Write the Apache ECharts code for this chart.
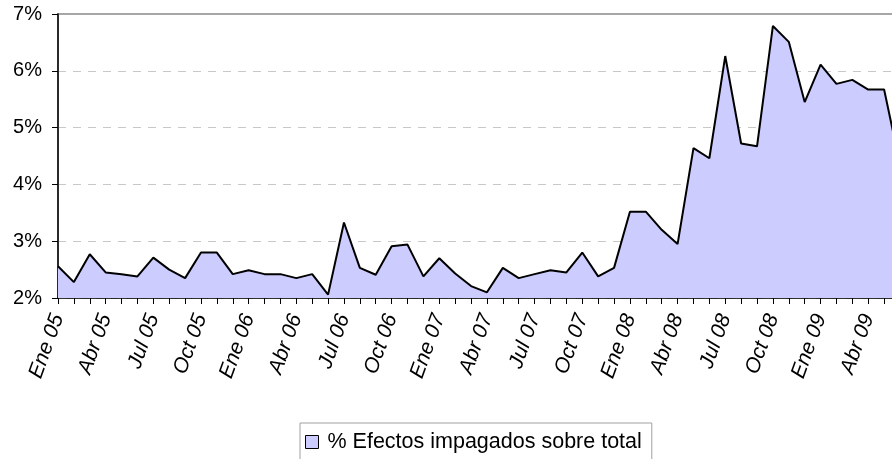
<!DOCTYPE html>
<html>
<head>
<meta charset="utf-8">
<script src="https://cdn.jsdelivr.net/npm/echarts@6/dist/echarts.min.js"></script>
<style>
html,body{margin:0;padding:0;background:#fff;overflow:hidden;width:892px;height:459px;}
#chart{width:900px;height:459px;}
</style>
</head>
<body>
<div id="chart"></div>
<script>
const categories = [
  'Ene 05','Feb 05','Mar 05','Abr 05','May 05','Jun 05','Jul 05','Ago 05','Sep 05','Oct 05','Nov 05','Dic 05',
  'Ene 06','Feb 06','Mar 06','Abr 06','May 06','Jun 06','Jul 06','Ago 06','Sep 06','Oct 06','Nov 06','Dic 06',
  'Ene 07','Feb 07','Mar 07','Abr 07','May 07','Jun 07','Jul 07','Ago 07','Sep 07','Oct 07','Nov 07','Dic 07',
  'Ene 08','Feb 08','Mar 08','Abr 08','May 08','Jun 08','Jul 08','Ago 08','Sep 08','Oct 08','Nov 08','Dic 08',
  'Ene 09','Feb 09','Mar 09','Abr 09','May 09','Jun 09'
];
const seriesName = '% Efectos impagados sobre total';
const impagados = [
  2.56, 2.28, 2.77, 2.45, 2.42, 2.38, 2.71, 2.50, 2.35, 2.80, 2.80, 2.42,
  2.49, 2.42, 2.42, 2.35, 2.42, 2.06, 3.33, 2.53, 2.41, 2.91, 2.94, 2.38,
  2.70, 2.43, 2.21, 2.10, 2.53, 2.35, 2.42, 2.49, 2.45, 2.80, 2.38, 2.53,
  3.52, 3.52, 3.20, 2.95, 4.64, 4.46, 6.26, 4.72, 4.67, 6.79, 6.51, 5.45,
  6.11, 5.77, 5.84, 5.67, 5.67, 4.35
];
const yMin = 2, yMax = 7, yStep = 1;

const FONT = '"Liberation Sans", Arial, sans-serif';
const chart = echarts.init(document.getElementById('chart'), null, {renderer: 'canvas'});
chart.setOption({
  animation: false,
  backgroundColor: '#ffffff',
  grid: {
    left: 58, top: 14, height: 284, width: 842,
    show: true, borderColor: '#a6a6a6', borderWidth: 2, backgroundColor: 'transparent'
  },
  legend: {
    left: 300, top: 423,
    orient: 'horizontal',
    padding: [8, 10, 8, 5],
    borderColor: '#a0a0a0', borderWidth: 1,
    itemWidth: 13, itemHeight: 13, itemGap: 10,
    icon: 'rect',
    textStyle: {fontFamily: FONT, fontSize: 21.5, color: '#000', width: 330, padding: [0,0,0,4]},
    data: [{name: seriesName, itemStyle: {color: '#ccccff', borderColor: '#000', borderWidth: 1}}]
  },
  xAxis: {
    type: 'category',
    data: categories,
    boundaryGap: false,
    axisLine: {lineStyle: {color: '#000', width: 1.5}},
    axisTick: {show: true, interval: 0, length: 6, lineStyle: {color: '#000'}},
    axisLabel: {
      interval: 2, rotate: 70, margin: 17,
      fontFamily: FONT, fontSize: 21, fontStyle: 'italic', color: '#000'
    },
    splitLine: {show: false}
  },
  yAxis: {
    type: 'value',
    min: yMin, max: yMax, interval: yStep,
    axisLine: {show: true, lineStyle: {color: '#000', width: 1.5}},
    axisTick: {show: true, length: 6, lineStyle: {color: '#000'}},
    axisLabel: {
      formatter: '{value}%', margin: 16,
      fontFamily: FONT, fontSize: 20, color: '#000'
    },
    splitLine: {show: true, showMaxLine: false, lineStyle: {color: '#c8c8c8', width: 1, type: [8, 7]}}
  },
  series: [{
    name: seriesName,
    type: 'line',
    data: impagados,
    showSymbol: false,
    symbol: 'none',
    lineStyle: {color: '#000', width: 2},
    itemStyle: {color: '#ccccff', borderColor: '#000'},
    areaStyle: {color: '#ccccff', opacity: 1, origin: 'start'},
    z: 3
  }]
});
</script>
</body>
</html>
